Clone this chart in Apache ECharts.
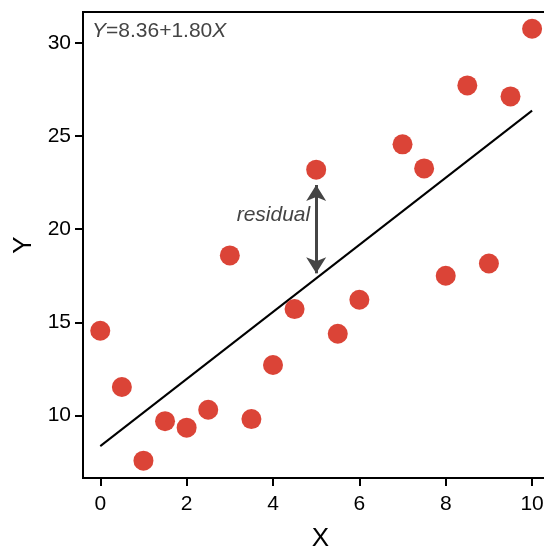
<!DOCTYPE html>
<html>
<head>
<meta charset="utf-8">
<script src="https://cdn.jsdelivr.net/npm/echarts@6/dist/echarts.min.js"></script>
<style>
html,body{margin:0;padding:0;background:#fff;}
#chart{width:544px;height:546px;}
</style>
</head>
<body>
<div id="chart"></div>
<script>
// Data
const xValues = [0, 0.5, 1, 1.5, 2, 2.5, 3, 3.5, 4, 4.5, 5, 5.5, 6, 7, 7.5, 8, 8.5, 9, 9.5, 10];
const yValues = [14.55, 11.53, 7.58, 9.70, 9.35, 10.31, 18.59, 9.81, 12.71, 15.71, 23.19, 14.39, 16.21, 24.55, 23.26, 17.50, 27.71, 18.16, 27.12, 30.75];
const fitX = [0, 10];
const fitY = [8.36, 26.36];
const residualX = 5;
const residualFrom = 17.63;
const residualTo = 22.37;
const xTicks = [0, 2, 4, 6, 8, 10];
const yTicks = [10, 15, 20, 25, 30];
const equationText = ['Y', '=8.36+1.80', 'X'];
const residualLabel = 'residual';

const FONT = '"Liberation Sans", Arial, Helvetica, sans-serif';
const chart = echarts.init(document.getElementById('chart'), null, {renderer: 'canvas'});

const points = xValues.map((x, i) => [x, yValues[i]]);
const fitLine = fitX.map((x, i) => [x, fitY[i]]);

chart.setOption({
  animation: false,
  backgroundColor: '#ffffff',
  grid: {
    left: 83, top: 12, bottom: 68, right: -14,
    containLabel: false, outerBoundsMode: 'none',
    show: true, borderColor: '#000', borderWidth: 2, backgroundColor: 'transparent'
  },
  xAxis: {
    type: 'value', min: -0.4, max: 10.6,
    name: 'X', nameLocation: 'middle', nameGap: 48,
    nameTextStyle: {fontFamily: FONT, fontSize: 26, color: '#000'},
    splitLine: {show: false},
    axisLine: {show: true, onZero: false, lineStyle: {color: '#000', width: 2}},
    axisTick: {show: true, length: 8, lineStyle: {color: '#000', width: 2}, customValues: xTicks},
    axisLabel: {fontFamily: FONT, fontSize: 21, color: '#000', margin: 16, customValues: xTicks,
      showMinLabel: true, showMaxLabel: true}
  },
  yAxis: {
    type: 'value', min: 6.65, max: 31.65,
    name: 'Y', nameLocation: 'middle', nameGap: 45,
    nameTextStyle: {fontFamily: FONT, fontSize: 26, color: '#000'},
    splitLine: {show: false},
    axisLine: {show: true, onZero: false, lineStyle: {color: '#000', width: 2}},
    axisTick: {show: true, length: 8, lineStyle: {color: '#000', width: 2}, customValues: yTicks},
    axisLabel: {fontFamily: FONT, fontSize: 21, color: '#000', margin: 12, customValues: yTicks}
  },
  series: [
    {
      type: 'line', data: fitLine, symbol: 'none', silent: true,
      lineStyle: {color: '#000', width: 2}, z: 2,
      markLine: {
        silent: true, symbol: ['arrow', 'arrow'], symbolSize: [15, 16],
        label: {show: false},
        lineStyle: {color: '#454545', width: 3, type: 'solid'},
        data: [[{coord: [residualX, residualFrom]}, {coord: [residualX, residualTo]}]]
      }
    },
    {
      type: 'scatter', data: points, symbol: 'circle', symbolSize: 20,
      itemStyle: {color: '#db4437', opacity: 1}, z: 3
    }
  ]
});

const anchor = chart.convertToPixel({gridIndex: 0}, [residualX, (residualFrom + residualTo) / 2]);
chart.setOption({
  graphic: [
    {
      type: 'text', left: 92, top: 21,
      style: {
        text: '{i|' + equationText[0] + '}{n|' + equationText[1] + '}{i|' + equationText[2] + '}',
        rich: {
          i: {fontFamily: FONT, fontSize: 21, fontStyle: 'italic', fill: '#444'},
          n: {fontFamily: FONT, fontSize: 21, fill: '#444'}
        }
      }
    },
    {
      type: 'text', x: anchor[0] - 6, y: anchor[1] - 14,
      style: {
        text: residualLabel, fontFamily: FONT, fontSize: 21, fontStyle: 'italic', fill: '#444',
        align: 'right', verticalAlign: 'middle'
      }
    }
  ]
});
</script>
</body>
</html>
